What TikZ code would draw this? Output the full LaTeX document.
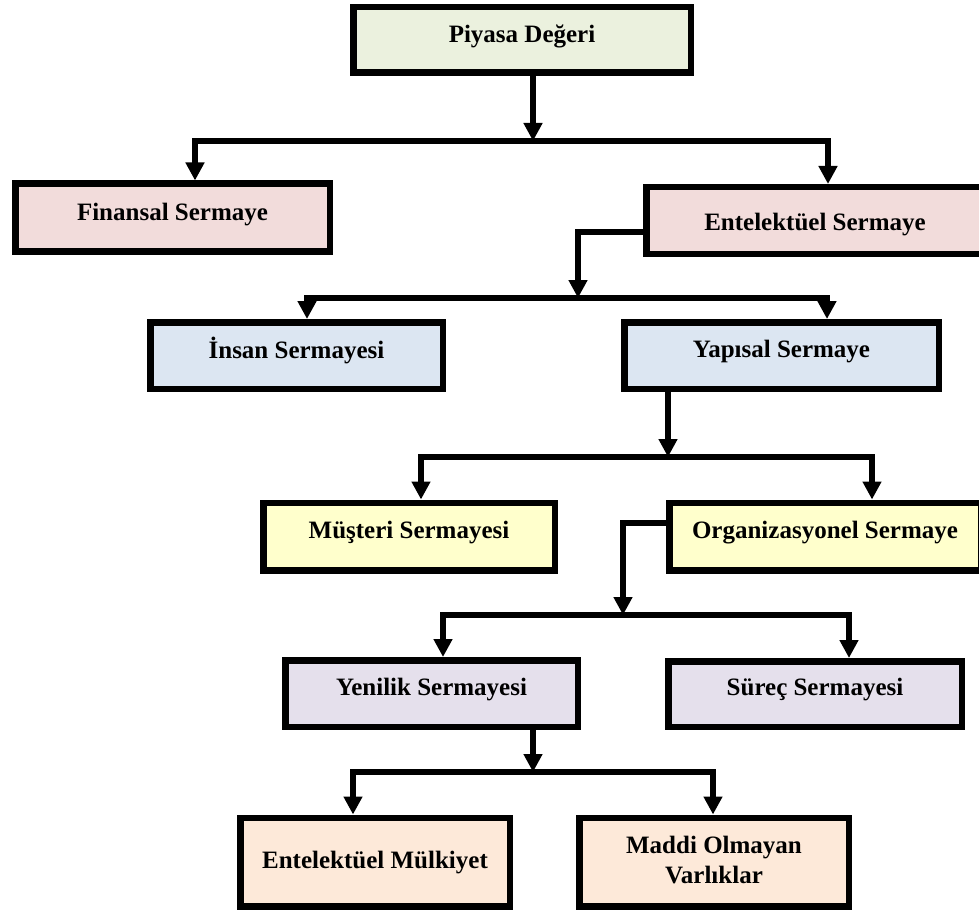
\documentclass[tikz,border=0pt]{standalone}
\usepackage{fontspec}
\setmainfont{Liberation Serif}
\usetikzlibrary{arrows.meta}

\definecolor{greenfill}{HTML}{EBF1DE}
\definecolor{redfill}{HTML}{F2DCDB}
\definecolor{bluefill}{HTML}{DCE6F2}
\definecolor{yellowfill}{HTML}{FFFFCC}
\definecolor{purplefill}{HTML}{E5E0EC}
\definecolor{orangefill}{HTML}{FDE9D9}

\tikzset{
  box/.style={draw=black, line width=6.5pt, rectangle, inner sep=0pt},
  lbl/.style={anchor=base, inner sep=0pt, font=\bfseries\fontsize{25}{30}\selectfont, align=center},
  feed/.style={draw=black, line width=6pt, -{Triangle[length=18pt,width=18pt]}},
  bar/.style={draw=black, line width=6pt, miter limit=10,
    {Triangle[length=18pt,width=18pt]}-{Triangle[length=18pt,width=18pt]}}
}

\begin{document}
\begin{tikzpicture}[x=1pt, y=-1pt]
\useasboundingbox (0,0) rectangle (979,912);
\clip (0,0) rectangle (979,912);

% boxes: minimum size is the outer size less the border width
\node[box, fill=greenfill,  minimum width=337.5pt, minimum height=65.5pt] (piy) at (522,40) {};
\node[box, fill=redfill,    minimum width=314.5pt, minimum height=67.5pt] (fin) at (172.5,217.5) {};
\node[box, fill=redfill,    minimum width=337.5pt, minimum height=66.5pt] (ent) at (815,220.5) {};
\node[box, fill=bluefill,   minimum width=292.5pt, minimum height=66.5pt] (ins) at (296.5,355.5) {};
\node[box, fill=bluefill,   minimum width=314.5pt, minimum height=66.5pt] (yap) at (781.5,355.5) {};
\node[box, fill=yellowfill, minimum width=291.5pt, minimum height=67.5pt] (mus) at (409,536.5) {};
\node[box, fill=yellowfill, minimum width=311.5pt, minimum height=67.5pt] (org) at (825,536.5) {};
\node[box, fill=purplefill, minimum width=292.5pt, minimum height=66.5pt] (yen) at (431.5,693.5) {};
\node[box, fill=purplefill, minimum width=293.5pt, minimum height=65.5pt] (sur) at (815,694) {};
\node[box, fill=orangefill, minimum width=269.5pt, minimum height=88.5pt] (mul) at (375,862) {};
\node[box, fill=orangefill, minimum width=269.5pt, minimum height=88.5pt] (mad) at (714,862) {};

% labels (base anchor: baseline of the last line)
\node[lbl] (tpiy) at (522,43)   {Piyasa Değeri};
\node[lbl] (tfin) at (172.5,220) {Finansal Sermaye};
\node[lbl] (tent) at (815,230)  {Entelektüel Sermaye};
\node[lbl] (tins) at (296.5,358) {İnsan Sermayesi};
\node[lbl] (tyap) at (781.5,357) {Yapısal Sermaye};
\node[lbl] (tmus) at (409,538)  {Müşteri Sermayesi};
\node[lbl] (torg) at (825,538)  {Organizasyonel Sermaye};
\node[lbl] (tyen) at (431.5,695) {Yenilik Sermayesi};
\node[lbl] (tsur) at (815,695)  {Süreç Sermayesi};
\node[lbl] (tmul) at (375,868)  {Entelektüel Mülkiyet};
\node[lbl] (tmad) at (714,883)  {Maddi Olmayan\\Varlıklar};

% junction points of the branching bars
\coordinate (j1)  at (533,141);
\coordinate (j1l) at (195,141);
\coordinate (j1r) at (828,141);

\coordinate (k2)  at (578,232);
\coordinate (j2)  at (578,298);
\coordinate (j2l) at (307,298);
\coordinate (j2r) at (827,298);

\coordinate (j3)  at (668,457);
\coordinate (j3l) at (421,457);
\coordinate (j3r) at (872,457);

\coordinate (k4)  at (623,523);
\coordinate (j4)  at (623,615);
\coordinate (j4l) at (443,615);
\coordinate (j4r) at (849,615);

\coordinate (j5)  at (533,772);
\coordinate (j5l) at (353,772);
\coordinate (j5r) at (713,772);

% Piyasa Degeri -> Finansal / Entelektuel
\draw[feed] (piy.south -| j1) -- (j1);
\draw[bar] (fin.north -| j1l) -- (j1l) -- (j1r) -- (ent.north -| j1r);

% Entelektuel -> Insan / Yapisal
\draw[feed] (ent.west |- k2) -- (k2) -- (j2);
\draw[bar] (ins.north -| j2l) -- (j2l) -- (j2r) -- (yap.north -| j2r);

% Yapisal -> Musteri / Organizasyonel
\draw[feed] (yap.south -| j3) -- (j3);
\draw[bar] (mus.north -| j3l) -- (j3l) -- (j3r) -- (org.north -| j3r);

% Organizasyonel -> Yenilik / Surec
\draw[feed] (org.west |- k4) -- (k4) -- (j4);
\draw[bar] (yen.north -| j4l) -- (j4l) -- (j4r) -- (sur.north -| j4r);

% Yenilik -> Mulkiyet / Maddi Olmayan Varliklar
\draw[feed] (yen.south -| j5) -- (j5);
\draw[bar] (mul.north -| j5l) -- (j5l) -- (j5r) -- (mad.north -| j5r);
\end{tikzpicture}
\end{document}
